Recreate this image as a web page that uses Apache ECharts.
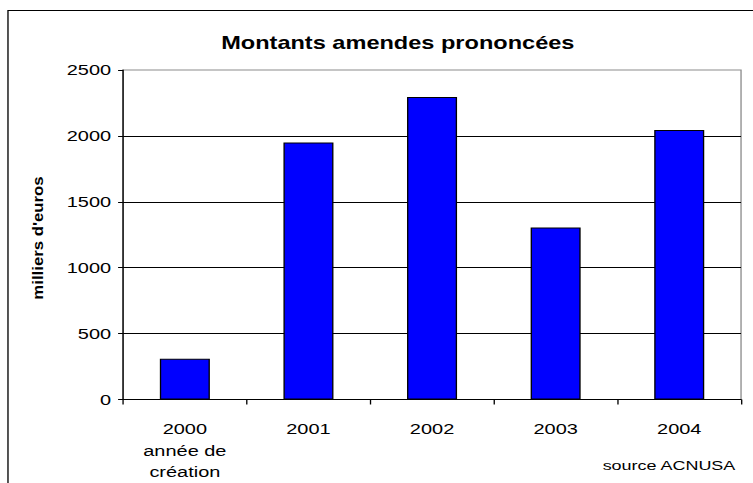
<!DOCTYPE html>
<html>
<head>
<meta charset="utf-8">
<script src="https://cdn.jsdelivr.net/npm/echarts@6/dist/echarts.min.js"></script>
<style>
  html, body { margin: 0; padding: 0; background: #fff; overflow: hidden; }
  /* The chart is laid out narrower and widened with a horizontal stretch,
     so its wide lettering keeps the look of the printed figure. */
  #chart { width: 566px; height: 483px; transform-origin: 0 0; transform: scaleX(1.3304); }
</style>
</head>
<body>
<div id="chart"></div>
<script>
// Fines pronounced per year (thousands of euros)
const categories = ['2000\nannée de\ncréation', '2001', '2002', '2003', '2004'];
const amounts = [310, 1950, 2295, 1305, 2045];
const yTicks = [0, 500, 1000, 1500, 2000, 2500];

const STRETCH = 1.3304;
const chart = echarts.init(document.getElementById('chart'), null, { renderer: 'svg' });
const font = 'Liberation Sans, Arial, sans-serif';

chart.setOption({
  animation: false,
  backgroundColor: '#fff',
  title: {
    text: 'Montants amendes prononcées',
    left: 294,
    top: 29,
    textAlign: 'center',
    textStyle: { fontFamily: font, fontSize: 17.7, fontWeight: 'bold', color: '#000' }
  },
  grid: {
    left: 92.5, right: 9, top: 70, bottom: 79,
    show: true, borderColor: '#8c8c8c', borderWidth: 1
  },
  xAxis: {
    type: 'category',
    data: categories,
    axisLine: { lineStyle: { color: '#000', width: 1 } },
    axisTick: { show: true, length: 5, lineStyle: { color: '#000' } },
    axisLabel: {
      margin: 19, color: '#000', fontFamily: font, fontSize: 15, lineHeight: 21.5,
      verticalAlign: 'top'
    }
  },
  yAxis: {
    type: 'value',
    min: yTicks[0],
    max: yTicks[yTicks.length - 1],
    interval: 500,
    axisLine: { show: true, lineStyle: { color: '#000', width: 1 } },
    axisTick: { show: true, length: 3.75, lineStyle: { color: '#000' } },
    axisLabel: {
      margin: 9, color: '#000', fontFamily: font, fontSize: 15,
      formatter: v => String(v)
    },
    splitLine: { show: true, showMinLine: false, showMaxLine: false, lineStyle: { color: '#000', width: 1 } }
  },
  series: [{
    type: 'bar',
    data: amounts,
    barWidth: 37.6,
    itemStyle: { color: '#0000ff', borderColor: '#000', borderWidth: 1 }
  }],
  graphic: [
    {
      type: 'rect',
      shape: { x: 6, y: 10.5, width: 700, height: 600 },
      style: { fill: 'none', stroke: '#000', lineWidth: 1 },
      silent: true
    },
    {
      // vertical axis title, widened along its own reading direction
      type: 'text',
      x: 28.6,
      y: 238,
      rotation: Math.PI / 2,
      scaleX: 1.2,
      scaleY: 1 / STRETCH,
      style: {
        text: "milliers d'euros", fontFamily: font, fontSize: 14, fontWeight: 'bold',
        fill: '#000', align: 'center', verticalAlign: 'middle'
      },
      silent: true
    },
    {
      type: 'text',
      right: 12.5,
      top: 458,
      style: { text: 'source ACNUSA', fontFamily: font, fontSize: 13.5, fill: '#000' }
    }
  ]
});
</script>
</body>
</html>
